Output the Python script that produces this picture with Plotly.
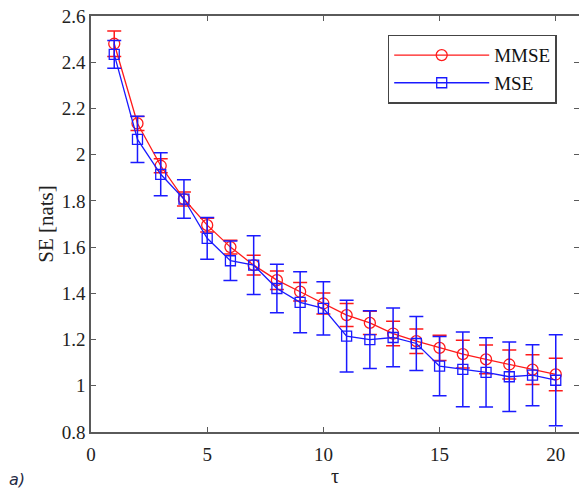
import plotly.graph_objects as go

# Sample entropy versus scale factor tau, mean +/- std
tau = list(range(1, 21))
mmse = [2.48, 2.135, 1.952, 1.808, 1.695, 1.60, 1.522, 1.457, 1.407, 1.356,
        1.306, 1.272, 1.226, 1.193, 1.164, 1.137, 1.114, 1.092, 1.07, 1.049]
mmse_err = [0.055, 0.03, 0.03, 0.03, 0.03, 0.03, 0.043, 0.04, 0.04, 0.045,
            0.05, 0.05, 0.053, 0.053, 0.055, 0.06, 0.062, 0.063, 0.064, 0.07]
mse = [2.434, 2.066, 1.915, 1.808, 1.638, 1.541, 1.522, 1.421, 1.361, 1.335,
       1.215, 1.20, 1.209, 1.183, 1.085, 1.071, 1.058, 1.039, 1.046, 1.024]
mse_err = [0.06, 0.1, 0.093, 0.083, 0.09, 0.085, 0.127, 0.105, 0.132, 0.115,
           0.155, 0.125, 0.127, 0.117, 0.128, 0.162, 0.15, 0.15, 0.132, 0.197]

x_ticks = [0, 5, 10, 15, 20]
y_ticks = [0.8, 1, 1.2, 1.4, 1.6, 1.8, 2, 2.2, 2.4, 2.6]
y_tick_text = ["0.8", "1", "1.2", "1.4", "1.6", "1.8", "2", "2.2", "2.4", "2.6"]

serif = "Liberation Serif"
axis_col = "#5a5a5a"

fig = go.Figure()
fig.add_trace(go.Scatter(
    x=tau, y=mmse, name="MMSE", mode="lines+markers",
    line=dict(color="#ff1a1a", width=1.3),
    marker=dict(symbol="circle-open", size=11, color="#ff1a1a", line=dict(width=1.3)),
    error_y=dict(type="data", array=mmse_err, visible=True,
                 color="#ff1a1a", thickness=1.5, width=7),
))
fig.add_trace(go.Scatter(
    x=tau, y=mse, name="MSE", mode="lines+markers",
    line=dict(color="#1a1aff", width=1.3),
    marker=dict(symbol="square-open", size=10, color="#1a1aff", line=dict(width=1.3)),
    error_y=dict(type="data", array=mse_err, visible=True,
                 color="#1a1aff", thickness=1.5, width=7),
))

fig.update_layout(
    width=579, height=494,
    margin=dict(l=91, r=0, t=16, b=62),
    paper_bgcolor="white", plot_bgcolor="white",
    font=dict(family=serif, size=19, color="#222222"),
    showlegend=True,
    legend=dict(
        x=0.608, y=0.955, xanchor="left", yanchor="top",
        bgcolor="white", bordercolor="#444444", borderwidth=1.5,
        font=dict(family=serif, size=19, color="#111111"),
        tracegroupgap=0, itemwidth=95,
    ),
    xaxis=dict(
        range=[0, 21], tickmode="array", tickvals=x_ticks,
        ticks="inside", ticklen=5, tickcolor=axis_col, tickwidth=1,
        showline=True, linecolor=axis_col, linewidth=1.5, mirror="ticks",
        showgrid=False, zeroline=False, automargin=False,
        ticklabelstandoff=4,
        title=dict(text="τ", font=dict(family=serif, size=20), standoff=2),
        tickfont=dict(family=serif, size=19, color="#222222"),
    ),
    yaxis=dict(
        range=[0.8, 2.6], tickmode="array", tickvals=y_ticks, ticktext=y_tick_text,
        ticks="inside", ticklen=5, tickcolor=axis_col, tickwidth=1,
        showline=True, linecolor=axis_col, linewidth=1.5, mirror="ticks",
        showgrid=False, zeroline=False, automargin=False,
        title=dict(text="SE [nats]", font=dict(family=serif, size=21), standoff=2),
        tickfont=dict(family=serif, size=19, color="#222222"),
    ),
    annotations=[dict(
        text="<i>a)</i>", xref="paper", yref="paper", x=-0.173, y=-0.143,
        xanchor="left", yanchor="bottom", showarrow=False,
        font=dict(family="DejaVu Sans, sans-serif", size=16, color="#1f2a44"),
    )],
)

fig.write_html("out.html")
